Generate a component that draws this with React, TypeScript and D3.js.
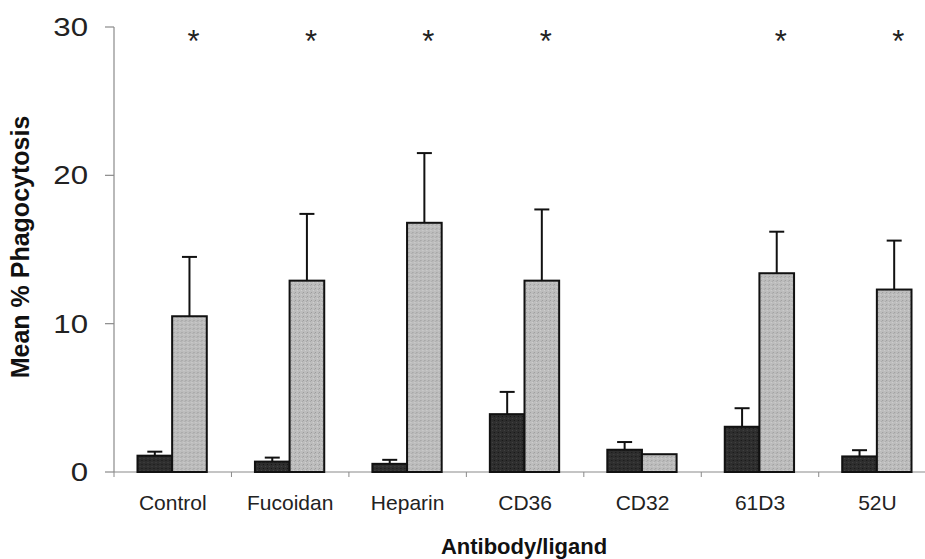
import React from "react";
import * as d3 from "d3";

// Treatment groups along the x axis
const categories = ["Control", "Fucoidan", "Heparin", "CD36", "CD32", "61D3", "52U"];
// Mean % phagocytosis, first (dark) and second (light) condition
const darkValues = [1.1, 0.7, 0.55, 3.9, 1.5, 3.05, 1.05];
const darkErrors = [0.27, 0.27, 0.27, 1.5, 0.52, 1.25, 0.42];
const lightValues = [10.5, 12.9, 16.8, 12.9, 1.2, 13.4, 12.3];
const lightErrors = [4.0, 4.5, 4.7, 4.8, 0, 2.8, 3.3];
// Groups marked as significantly different
const significant = [true, true, true, true, false, true, true];
const yTicks = [0, 10, 20, 30];

const W = 925;
const H = 559;
const FONT = "'Liberation Sans', Arial, sans-serif";

export default function App() {
  const x = d3.scaleBand<string>().domain(categories).range([114, 935]).paddingInner(0.41).paddingOuter(0.2);
  const sub = d3.scaleBand<string>().domain(["dark", "light"]).range([0, x.bandwidth()]);
  const y = d3.scaleLinear().domain([0, 30]).range([472, 27]);
  const step = x.step();
  const x0 = 114;

  const series = [
    { key: "dark", values: darkValues, errors: darkErrors, fill: "url(#darkPat)" },
    { key: "light", values: lightValues, errors: lightErrors, fill: "url(#lightPat)" },
  ];

  return (
    <svg width={W} height={H} style={{ position: "absolute", left: 0, top: 0, background: "#fff" }}>
      <defs>
        <pattern id="darkPat" width="4" height="4" patternUnits="userSpaceOnUse">
          <rect width="4" height="4" fill="#2e2e2e" />
          <rect x="0" y="0" width="1" height="1" fill="#151515" />
          <rect x="2" y="2" width="1" height="1" fill="#444" />
        </pattern>
        <pattern id="lightPat" width="4" height="4" patternUnits="userSpaceOnUse">
          <rect width="4" height="4" fill="#bdbdbd" />
          <rect x="0" y="0" width="1" height="1" fill="#9a9a9a" />
          <rect x="2" y="2" width="1" height="1" fill="#d0d0d0" />
          <rect x="3" y="1" width="1" height="1" fill="#a8a8a8" />
        </pattern>
      </defs>

      {/* y axis */}
      <line x1={x0} x2={x0} y1={y(30)} y2={y(0)} stroke="#8a8a8a" strokeWidth={1.2} />
      {yTicks.map((t) => (
        <g key={t}>
          <line x1={x0 - 9} x2={x0} y1={y(t)} y2={y(t)} stroke="#8a8a8a" strokeWidth={1.2} />
          <text
            x={88}
            y={y(t)}
            textAnchor="end"
            dominantBaseline="central"
            fontFamily={FONT}
            fontSize={26}
            fill="#222"
            transform={`translate(88 ${y(t)}) scale(1.2 1) translate(-88 ${-y(t)})`}
          >
            {t}
          </text>
        </g>
      ))}

      {/* x axis */}
      <line x1={x0} x2={W} y1={y(0)} y2={y(0)} stroke="#8a8a8a" strokeWidth={1.2} />
      {categories.map((c, i) => (
        <line key={c} x1={x0 + step * i} x2={x0 + step * i} y1={y(0)} y2={y(0) + 5} stroke="#8a8a8a" strokeWidth={1} />
      ))}

      {/* bars with upward error bars */}
      {categories.map((c, i) => (
        <g key={c} transform={`translate(${x(c)},0)`}>
          {series.map((s) => {
            const bx = sub(s.key)!;
            const bw = sub.bandwidth();
            const v = s.values[i];
            const e = s.errors[i];
            const cx = bx + bw / 2;
            return (
              <g key={s.key}>
                {e > 0 && (
                  <g stroke="#111" strokeWidth={2}>
                    <line x1={cx} x2={cx} y1={y(v)} y2={y(v + e)} />
                    <line x1={cx - 7.5} x2={cx + 7.5} y1={y(v + e)} y2={y(v + e)} />
                  </g>
                )}
                <rect x={bx} y={y(v)} width={bw} height={y(0) - y(v)} fill={s.fill} stroke="#111" strokeWidth={2} />
              </g>
            );
          })}
        </g>
      ))}

      {/* significance markers */}
      {categories.map((c, i) =>
        significant[i] ? (
          <text key={c} x={x(c)! + sub("light")! + sub.bandwidth() / 2 + 4} y={52} textAnchor="middle" fontFamily={FONT} fontSize={31} fill="#222">
            *
          </text>
        ) : null
      )}

      {/* category labels */}
      {categories.map((c) => (
        <text key={c} x={x0 + step * (categories.indexOf(c) + 0.5)} y={510} textAnchor="middle" fontFamily={FONT} fontSize={21} fill="#222">
          {c}
        </text>
      ))}

      {/* axis titles */}
      <text x={524} y={554} textAnchor="middle" fontFamily={FONT} fontSize={22} fontWeight="bold" fill="#111">
        Antibody/ligand
      </text>
      <text
        transform={`translate(29 247) rotate(-90)`}
        textAnchor="middle"
        fontFamily={FONT}
        fontSize={25}
        fontWeight="bold"
        fill="#111"
      >
        Mean % Phagocytosis
      </text>
    </svg>
  );
}
